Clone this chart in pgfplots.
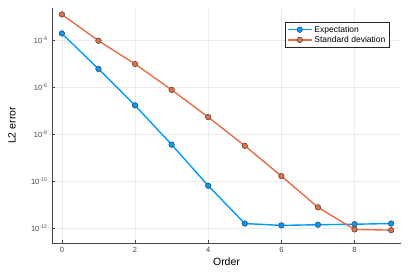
\documentclass[border=0pt]{standalone}
\usepackage{fontspec}
\setmainfont{Liberation Sans}
\usepackage{pgfplots}
\pgfplotsset{compat=1.18}
\definecolor{jblue}{RGB}{0,154,250}
\definecolor{jorange}{RGB}{227,111,71}
\definecolor{spine}{RGB}{70,70,70}
\begin{document}
\begin{tikzpicture}
\begin{axis}[
  at={(0,0)}, anchor=south west,
  scale only axis, width=349pt, height=235pt,
  ymode=log,
  xmin=-0.27, xmax=9.27,
  ymin=2.3e-13, ymax=2.31e-3,
  axis x line*=bottom, axis y line*=left,
  axis line style={spine, line width=0.8pt, -},
  xtick={0,2,4,6,8},
  ytick={1e-12,1e-10,1e-8,1e-6,1e-4},
  yticklabels={10\textsuperscript{-12},10\textsuperscript{-10},10\textsuperscript{-8},10\textsuperscript{-6},10\textsuperscript{-4}},
  minor tick num=0,
  /pgf/number format/assume math mode=true,
  tick align=inside,
  major tick length=3pt,
  tick style={spine, line width=0.6pt},
  ticklabel style={font=\fontsize{7.5}{8.5}\selectfont, text=spine},
  xticklabel style={yshift=-1pt},
  yticklabel style={xshift=-1pt},
  grid=major,
  major grid style={black!8, line width=0.5pt},
  xlabel={Order},
  ylabel={L2 error},
  label style={font=\fontsize{10.5}{12}\selectfont},
  xlabel style={at={(axis description cs:0.5,-0.0809)}, anchor=center},
  ylabel style={at={(axis description cs:-0.1146,0.5)}, anchor=center},
  legend style={at={(0.966,0.940)}, anchor=north east, font=\fontsize{8.5}{9.5}\selectfont,
    draw=black!85, line width=0.6pt, inner sep=1.5pt, row sep=-1.5pt, cells={anchor=west}},
  legend image code/.code={\draw[mark repeat=2,mark phase=2] plot coordinates {(0pt,0pt)(12pt,0pt)(24pt,0pt)};},
]
\addplot[jblue, line width=1.4pt, mark=*, mark size=2.8pt, mark options={fill=jblue, draw=black!75, line width=0.5pt}]
coordinates {
(0,1.905e-4) (1,5.89e-6) (2,1.66e-7) (3,3.55e-9) (4,6.31e-11)
(5,1.55e-12) (6,1.29e-12) (7,1.38e-12) (8,1.45e-12) (9,1.55e-12)
};
\addlegendentry{Expectation}
\addplot[jorange, line width=1.4pt, mark=*, mark size=2.8pt, mark options={fill=jorange, draw=black!75, line width=0.5pt}]
coordinates {
(0,1.23e-3) (1,9.33e-5) (2,9.55e-6) (3,7.59e-7) (4,5.25e-8)
(5,3.16e-9) (6,1.62e-10) (7,7.59e-12) (8,8.71e-13) (9,8.13e-13)
};
\addlegendentry{Standard deviation}
\end{axis}
\pgfresetboundingbox
\path[use as bounding box] (-52pt,-30pt) rectangle (357pt,243pt);
\end{tikzpicture}
\end{document}
